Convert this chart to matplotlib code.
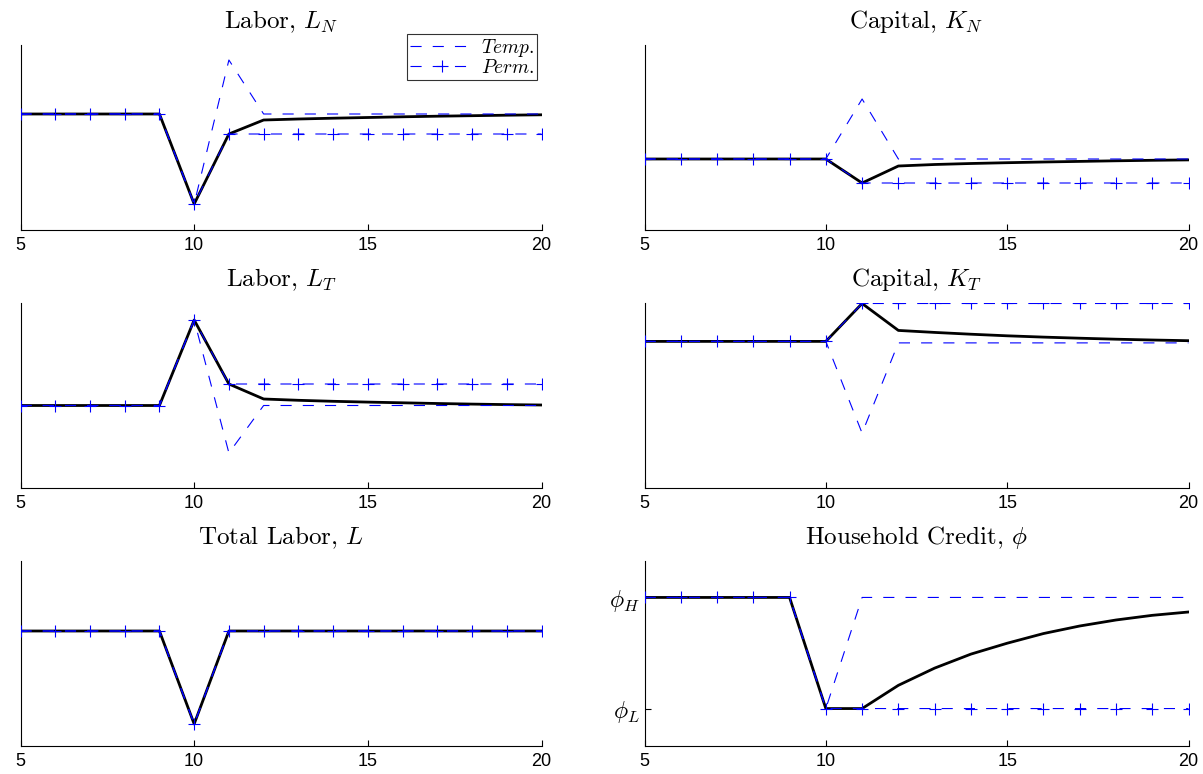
import matplotlib
matplotlib.use("Agg")
import matplotlib.pyplot as plt
import numpy as np

plt.rcParams['mathtext.fontset'] = 'cm'
plt.rcParams['font.family'] = ['Liberation Sans', 'DejaVu Sans']
plt.rcParams['axes.unicode_minus'] = False

# periods 5..20
t = np.arange(5, 21)

# deviations from steady state (arbitrary units)
# Labor, L_N
ln_temp = [0, 0, 0, 0, 0, -9.0, 5.4, 0, 0, 0, 0, 0, 0, 0, 0, 0]
ln_perm = [0, 0, 0, 0, 0, -9.0, -2.0, -2.0, -2.0, -2.0, -2.0, -2.0, -2.0, -2.0, -2.0, -2.0]
ln_base = [0, 0, 0, 0, 0, -9.0, -2.0, -0.6, -0.5, -0.42, -0.35, -0.28, -0.22, -0.17, -0.12, -0.08]

# Capital, K_N
kn_temp = [0, 0, 0, 0, 0, 0, 6.0, 0, 0, 0, 0, 0, 0, 0, 0, 0]
kn_perm = [0, 0, 0, 0, 0, 0, -2.4, -2.4, -2.4, -2.4, -2.4, -2.4, -2.4, -2.4, -2.4, -2.4]
kn_base = [0, 0, 0, 0, 0, 0, -2.4, -0.7, -0.55, -0.45, -0.37, -0.3, -0.24, -0.18, -0.13, -0.09]

# Labor, L_T
lt_temp = [0, 0, 0, 0, 0, 8.55, -4.75, 0, 0, 0, 0, 0, 0, 0, 0, 0]
lt_perm = [0, 0, 0, 0, 0, 8.55, 2.15, 2.15, 2.15, 2.15, 2.15, 2.15, 2.15, 2.15, 2.15, 2.15]
lt_base = [0, 0, 0, 0, 0, 8.55, 2.15, 0.65, 0.52, 0.42, 0.34, 0.27, 0.2, 0.14, 0.09, 0.05]

# Capital, K_T
kt_temp = [0, 0, 0, 0, 0, 0, -9.2, -0.15, -0.15, -0.15, -0.15, -0.15, -0.15, -0.15, -0.15, -0.15]
kt_perm = [0, 0, 0, 0, 0, 0, 3.8, 3.8, 3.8, 3.8, 3.8, 3.8, 3.8, 3.8, 3.8, 3.8]
kt_base = [0, 0, 0, 0, 0, 0, 3.8, 1.1, 0.9, 0.72, 0.56, 0.43, 0.32, 0.22, 0.14, 0.07]

# Total Labor, L
l_temp = [0, 0, 0, 0, 0, -9.3, 0, 0, 0, 0, 0, 0, 0, 0, 0, 0]
l_perm = [0, 0, 0, 0, 0, -9.3, 0, 0, 0, 0, 0, 0, 0, 0, 0, 0]
l_base = [0, 0, 0, 0, 0, -9.3, 0, 0, 0, 0, 0, 0, 0, 0, 0, 0]

# Household credit, phi (phi_L = 0, phi_H = 1)
phi_temp = [1, 1, 1, 1, 1, 0, 1, 1, 1, 1, 1, 1, 1, 1, 1, 1]
phi_perm = [1, 1, 1, 1, 1, 0, 0, 0, 0, 0, 0, 0, 0, 0, 0, 0]
phi_base = [1, 1, 1, 1, 1, 0, 0, 0.209, 0.364, 0.49, 0.588, 0.675, 0.743, 0.797, 0.839, 0.869]

panels = [
    ('Labor, $L_N$', ln_base, ln_temp, ln_perm, (-11.6, 6.9)),
    ('Capital, $K_N$', kn_base, kn_temp, kn_perm, (-7.1, 11.4)),
    ('Labor, $L_T$', lt_base, lt_temp, lt_perm, (-8.25, 10.25)),
    ('Capital, $K_T$', kt_base, kt_temp, kt_perm, (-14.7, 3.85)),
    ('Total Labor, $L$', l_base, l_temp, l_perm, (-11.5, 7.0)),
    (r'Household Credit, $\phi$', phi_base, phi_temp, phi_perm, (-0.337, 1.328)),
]

W, H = 1203, 774
fig = plt.figure(figsize=(W / 100, H / 100), dpi=100)

cols = [(20.5, 541.5), (644.5, 1188.5)]
rows = [(45, 230), (303, 488), (561, 746)]
dash = (0, (10, 10))

for i, (title, base, temp, perm, ylim) in enumerate(panels):
    r, c = divmod(i, 2)
    x0, x1 = cols[c]
    y0, y1 = rows[r]
    ax = fig.add_axes([x0 / W, 1 - y1 / H, (x1 - x0) / W, (y1 - y0) / H])

    ax.plot(t, base, color='k', lw=2.0, zorder=2)
    h1, = ax.plot(t, temp, color='b', lw=0.8, linestyle=dash, zorder=3)
    h2, = ax.plot(t, perm, color='b', lw=0.8, linestyle=dash, marker='+',
                  markersize=9, markeredgewidth=0.8, zorder=4)

    ax.set_xlim(5, 20)
    ax.set_ylim(*ylim)
    ax.set_xticks([5, 10, 15, 20])
    ax.tick_params(axis='x', direction='in', length=4, labelsize=13, pad=5)
    ax.tick_params(axis='y', direction='in', length=4)
    ax.spines['top'].set_visible(False)
    ax.spines['right'].set_visible(False)
    for s in ('left', 'bottom'):
        ax.spines[s].set_linewidth(0.8)
    ax.set_title(title, fontsize=18, fontfamily='cmr10', pad=12)

    if i == 5:
        ax.set_yticks([0, 1])
        ax.set_yticklabels([r'$\phi_L$', r'$\phi_H$'], fontsize=17)
    else:
        ax.set_yticks([])

    if i == 0:
        leg = ax.legend([h1, h2], [r'$Temp.$', r'$Perm.$'], loc='upper right',
                        bbox_to_anchor=(0.991, 1.059), borderaxespad=0,
                        fontsize=14, frameon=True, fancybox=False,
                        edgecolor='k', handlelength=3.3, handletextpad=0.35,
                        borderpad=0.15, labelspacing=0.0, numpoints=1)
        leg.get_frame().set_linewidth(0.8)

fig.savefig('out.png', dpi=100)
